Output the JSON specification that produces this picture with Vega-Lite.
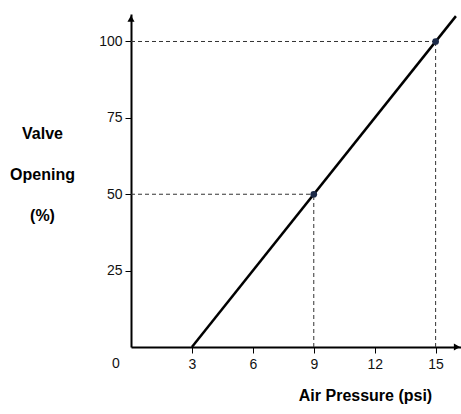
{
  "$schema": "https://vega.github.io/schema/vega-lite/v6.json",
  "autosize": "none",
  "width": 330,
  "height": 333,
  "padding": {"left": 131, "top": 14, "right": 0, "bottom": 67},
  "background": "white",
  "config": {
    "view": {"stroke": null},
    "font": "Liberation Sans",
    "axis": {"grid": false, "domainColor": "black", "domainWidth": 2, "tickColor": "black", "tickWidth": 1, "tickSize": 6, "labelFont": "Liberation Sans", "labelFontSize": 14, "labelColor": "#111", "titleFont": "Liberation Sans", "titleFontSize": 16, "titleFontWeight": "bold", "titleColor": "black"}
  },
  "datasets": {
    "guides": [
      {"xa": 0, "xb": 15, "ya": 100, "yb": 100},
      {"xa": 15, "xb": 15, "ya": 0, "yb": 100},
      {"xa": 0, "xb": 9, "ya": 50, "yb": 50},
      {"xa": 9, "xb": 9, "ya": 0, "yb": 50}
    ],
    "line": [
      {"pressure": 3, "opening": 0},
      {"pressure": 16, "opening": 108.3}
    ],
    "points": [
      {"pressure": 9, "opening": 50},
      {"pressure": 15, "opening": 100}
    ],
    "arrows": [
      {"pressure": 16.05, "opening": 0, "shape": "triangle-right"},
      {"pressure": 0, "opening": 107.5, "shape": "triangle-up"}
    ],
    "origin": [{"pressure": 0, "opening": 0, "label": "0"}]
  },
  "layer": [
    {
      "data": {"name": "guides"},
      "mark": {"type": "rule", "strokeDash": [4, 3], "strokeWidth": 1, "color": "#333"},
      "encoding": {
        "x": {"field": "xa", "type": "quantitative", "scale": {"domain": [0, 16.25], "nice": false, "zero": false},
          "axis": {"values": [3, 6, 9, 12, 15], "title": "Air Pressure (psi)", "labelPadding": 4, "titleX": 234, "titleY": 48, "titleAnchor": "middle", "titleBaseline": "middle"}},
        "x2": {"field": "xb"},
        "y": {"field": "ya", "type": "quantitative", "scale": {"domain": [0, 109], "nice": false, "zero": false},
          "axis": {"values": [25, 50, 75, 100], "title": ["Valve", "Opening", "(%)"], "titleAngle": 0, "titleLineHeight": 41, "titleX": -89, "titleY": 119, "titleAlign": "center", "titleBaseline": "middle", "labelPadding": 3}},
        "y2": {"field": "yb"}
      }
    },
    {
      "data": {"name": "line"},
      "mark": {"type": "line", "color": "black", "strokeWidth": 2.5},
      "encoding": {
        "x": {"field": "pressure", "type": "quantitative"},
        "y": {"field": "opening", "type": "quantitative"}
      }
    },
    {
      "data": {"name": "points"},
      "mark": {"type": "point", "filled": true, "color": "#1c2a48", "size": 45, "opacity": 1},
      "encoding": {
        "x": {"field": "pressure", "type": "quantitative"},
        "y": {"field": "opening", "type": "quantitative"}
      }
    },
    {
      "data": {"name": "arrows"},
      "mark": {"type": "point", "filled": true, "color": "black", "size": 50, "opacity": 1},
      "encoding": {
        "x": {"field": "pressure", "type": "quantitative"},
        "y": {"field": "opening", "type": "quantitative"},
        "shape": {"field": "shape", "type": "nominal", "scale": null}
      }
    },
    {
      "data": {"name": "origin"},
      "mark": {"type": "text", "dx": -15, "dy": 17, "fontSize": 14, "color": "#111", "font": "Liberation Sans"},
      "encoding": {
        "x": {"field": "pressure", "type": "quantitative"},
        "y": {"field": "opening", "type": "quantitative"},
        "text": {"field": "label"}
      }
    }
  ]
}
